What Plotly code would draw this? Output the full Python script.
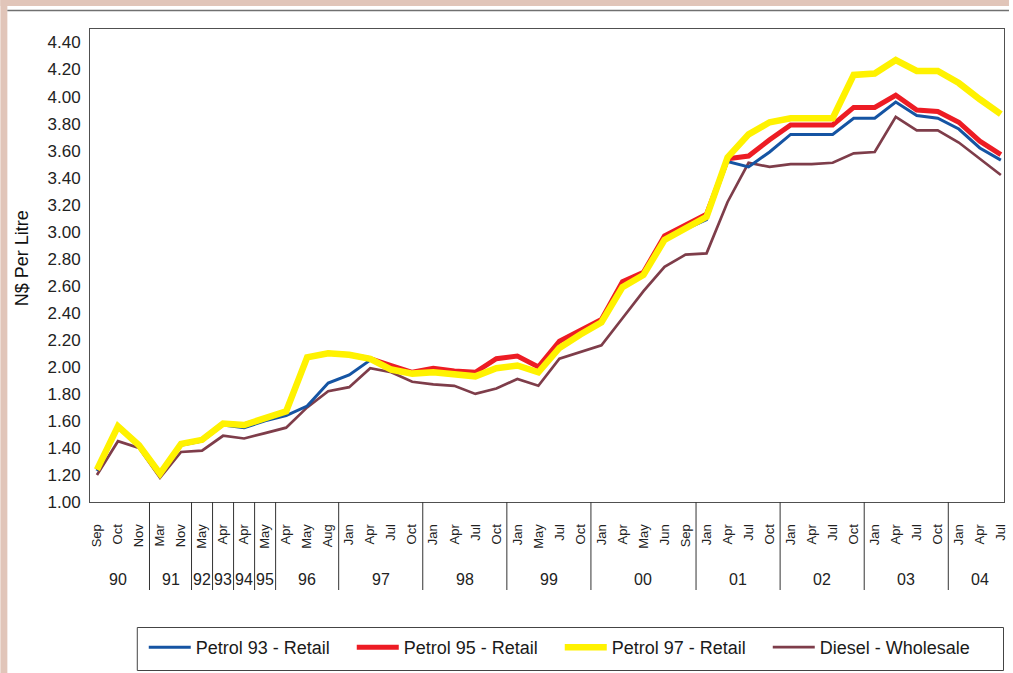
"""Namibian fuel prices, N$ per litre"""

import plotly.graph_objects as go

# category axis: month of each price change, grouped by year
months = ["Sep", "Oct", "Nov", "Mar", "Nov", "May", "Apr", "Apr", "May", "Apr", "May", "Aug",
          "Jan", "Apr", "Jul", "Oct", "Jan", "Apr", "Jul", "Oct", "Jan", "May", "Jul", "Oct",
          "Jan", "Apr", "May", "Jun", "Sep", "Jan", "Apr", "Jul", "Oct", "Jan", "Apr", "Jul", "Oct",
          "Jan", "Apr", "Jul", "Oct", "Jan", "Apr", "Jul"]
years = ["90", "91", "92", "93", "94", "95", "96", "97", "98", "99", "00", "01", "02", "03", "04"]
year_counts = [3, 2, 1, 1, 1, 1, 3, 4, 4, 4, 5, 4, 4, 4, 3]

petrol93 = [1.23, 1.55, 1.41, 1.20, 1.42, 1.45, 1.57, 1.55, 1.60, 1.64, 1.71, 1.88, 1.94, 2.05, 1.99,
            1.95, 1.96, 1.94, 1.93, 1.99, 2.01, 1.96, 2.14, 2.24, 2.33, 2.59, 2.68, 2.94, 3.02, 3.09,
            3.52, 3.48, 3.59, 3.72, 3.72, 3.72, 3.84, 3.84, 3.96, 3.86, 3.84, 3.76, 3.62, 3.53]
petrol95 = [1.24, 1.56, 1.42, 1.21, 1.43, 1.46, 1.58, 1.57, 1.62, 1.67, 2.07, 2.10, 2.09, 2.06, 2.01,
            1.96, 1.99, 1.97, 1.96, 2.06, 2.08, 2.00, 2.19, 2.27, 2.35, 2.63, 2.70, 2.97, 3.05, 3.13,
            3.54, 3.56, 3.68, 3.79, 3.79, 3.79, 3.92, 3.92, 4.01, 3.90, 3.89, 3.81, 3.67, 3.57]
petrol97 = [1.24, 1.56, 1.42, 1.21, 1.43, 1.46, 1.58, 1.57, 1.62, 1.67, 2.07, 2.10, 2.09, 2.06, 1.98,
            1.95, 1.96, 1.94, 1.93, 1.99, 2.01, 1.96, 2.14, 2.24, 2.33, 2.59, 2.68, 2.94, 3.03, 3.11,
            3.55, 3.72, 3.81, 3.84, 3.84, 3.84, 4.16, 4.17, 4.27, 4.19, 4.19, 4.10, 3.98, 3.87]
diesel = [1.20, 1.45, 1.40, 1.18, 1.37, 1.38, 1.49, 1.47, 1.51, 1.55, 1.70, 1.82, 1.85, 1.99, 1.96,
          1.89, 1.87, 1.86, 1.80, 1.84, 1.91, 1.86, 2.06, 2.11, 2.16, 2.36, 2.56, 2.74, 2.83, 2.84,
          3.22, 3.51, 3.48, 3.50, 3.50, 3.51, 3.58, 3.59, 3.85, 3.75, 3.75, 3.66, 3.54, 3.42]

y_ticks = [1.0 + 0.2 * k for k in range(18)]

FONT = "Liberation Sans, Arial, sans-serif"
x = list(range(len(months)))

fig = go.Figure()
# diesel drawn first so the petrol lines sit on top, legend order fixed by legendrank
fig.add_trace(go.Scatter(x=x, y=diesel, mode="lines", name="Diesel - Wholesale",
                         line=dict(color="#7e3d4a", width=2.7), legendrank=4))
fig.add_trace(go.Scatter(x=x, y=petrol93, mode="lines", name="Petrol 93 - Retail",
                         line=dict(color="#1554a3", width=3), legendrank=1))
fig.add_trace(go.Scatter(x=x, y=petrol95, mode="lines", name="Petrol 95 - Retail",
                         line=dict(color="#ed1c24", width=5), legendrank=2))
fig.add_trace(go.Scatter(x=x, y=petrol97, mode="lines", name="Petrol 97 - Retail",
                         line=dict(color="#fff200", width=6.5), legendrank=3))

# pixel -> paper helpers (plot area is 90..1008 x 29..502)
def px(v):
    return (v - 90) / 918.0

def py(v):
    return (502 - v) / 473.0

shapes = [
    # pink frame strips and grey rule at the top of the page
    dict(type="rect", xref="paper", yref="paper", x0=px(0), x1=px(7), y0=py(673), y1=py(0),
         fillcolor="#e1c5b9", line=dict(width=0), layer="below"),
    dict(type="rect", xref="paper", yref="paper", x0=px(0), x1=px(1013), y0=py(6), y1=py(0),
         fillcolor="#e1c5b9", line=dict(width=0), layer="below"),
    dict(type="line", xref="paper", yref="paper", x0=px(7), x1=px(1013), y0=py(10.5), y1=py(10.5),
         line=dict(color="#707070", width=1.5)),
    # legend frame (wider than plotly's own legend box)
    dict(type="rect", xref="paper", yref="paper", x0=px(137.5), x1=px(1007.5), y0=py(670.5),
         y1=py(627.5), line=dict(color="#444444", width=1), fillcolor="rgba(0,0,0,0)"),
]

# year separators and year labels under the month labels
annotations = []
start = 0
for i, (yr, n) in enumerate(zip(years, year_counts)):
    if i > 0:
        shapes.append(dict(type="line", xref="x", yref="paper", x0=start - 0.5, x1=start - 0.5,
                           y0=0, y1=py(590), line=dict(color="#333333", width=1)))
    annotations.append(dict(x=start + (n - 1) / 2, y=py(579), xref="x", yref="paper", text=yr,
                            xanchor="center", yanchor="middle", showarrow=False,
                            font=dict(size=16, color="#222222")))
    start += n

annotations.append(dict(x=px(22), y=py(258), xref="paper", yref="paper", text="N$ Per Litre",
                        xanchor="center", yanchor="middle", textangle=-90, showarrow=False,
                        font=dict(size=18, color="#111111")))

fig.update_layout(
    width=1013, height=673,
    margin=dict(l=90, r=5, t=29, b=171),
    paper_bgcolor="white", plot_bgcolor="white",
    font=dict(family=FONT, color="#222222"),
    showlegend=True,
    legend=dict(orientation="h", x=px(144), y=py(629), xanchor="left", yanchor="top",
                borderwidth=0, bgcolor="rgba(0,0,0,0)", itemwidth=42,
                font=dict(size=18, color="#1a1a1a"), entrywidth=151, entrywidthmode="pixels"),
    shapes=shapes,
    annotations=annotations,
)

fig.update_xaxes(range=[-0.33, 43.15], tickvals=x, ticktext=months, tickangle=-90,
                 tickfont=dict(size=13), ticks="", ticklabelstandoff=16,
                 showgrid=False, zeroline=False, showline=True, linecolor="#505050",
                 linewidth=1, mirror=True)
fig.update_yaxes(range=[1.0, 4.5], tickvals=y_ticks, tickformat=".2f", tickfont=dict(size=17),
                 ticks="", ticklabelstandoff=5, showgrid=False, zeroline=False,
                 showline=True, linecolor="#505050", linewidth=1, mirror=True)

# drop the default page margin so the figure sits at the window's top-left corner
fig.write_html("out.html", config={"displayModeBar": False},
               post_script="document.body.style.margin='0';")
